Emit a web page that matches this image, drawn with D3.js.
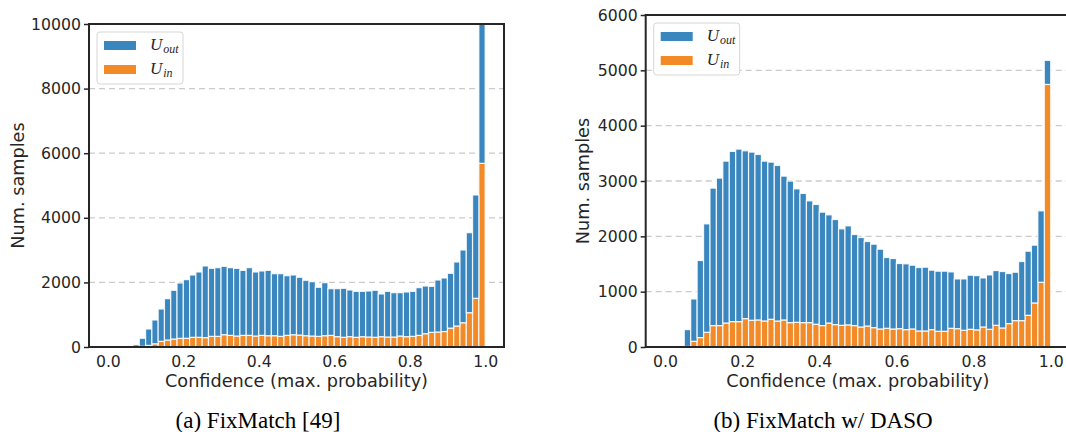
<!DOCTYPE html>
<html lang="en">
<head>
    <meta charset="UTF-8">
    <title>Confidence histograms</title>
    <script src="https://cdn.jsdelivr.net/npm/d3@7"></script>
    <style>
        body{margin:0;background:#fff;}
        svg{display:block;}
    </style>
</head>
<body>
    <svg id="chart" width="1066" height="432"></svg>
    <script>
        //60 bins between 0 and 1, lower edges
        var binEdges = d3.range(60).map(function(i){return i/60;});
        var binWidth = 1/60;

        //(a) FixMatch : samples per bin
        var fixmatchIn = [0,0,0,0,0,20,50,100,175,217,248,268,270,300,300,290,330,330,382,360,
                          340,360,360,340,360,350,350,330,360,380,370,350,340,330,350,360,320,300,320,300,
                          320,310,300,320,310,310,340,320,330,360,412,454,464,480,585,650,752,1062,1508,5687];
        var fixmatchOut = [0,0,0,0,70,250,507,736,1001,1279,1507,1713,1815,1929,2022,2218,2105,2126,2115,2096,
                           2095,2013,2096,1982,1993,2023,1920,1940,1848,1849,1788,1715,1682,1518,1641,1446,1486,1516,1445,1423,
                           1403,1424,1455,1321,1413,1372,1342,1383,1393,1477,1476,1424,1610,1656,1696,1982,2251,2477,3198,4313];

        //(b) FixMatch w/ DASO : samples per bin
        var dasoIn = [0,0,0,10,103,170,266,387,387,434,459,459,513,483,489,471,501,470,489,441,
                      447,441,441,411,387,434,405,392,400,387,362,380,350,326,338,326,332,314,326,290,
                      290,314,284,284,338,332,302,320,310,362,320,392,344,423,477,477,573,796,1170,4745];
        var dasoOut = [0,0,20,304,765,1393,1959,2484,2665,2925,3076,3117,3033,3039,2991,2888,2840,2811,2599,2557,
                       2411,2334,2200,2165,2050,1954,1899,1743,1789,1646,1617,1526,1508,1441,1279,1273,1177,1189,1152,1146,
                       1152,1074,1086,1086,1019,898,928,977,980,886,982,990,1020,905,874,1068,1158,1044,1290,435];

        var xTicks = [0,0.2,0.4,0.6,0.8,1.0];
        var yTicksA = [0,2000,4000,6000,8000,10000];
        var yTicksB = [0,1000,2000,3000,4000,5000,6000];
        var seriesNames = ["out","in"];
        var captions = ["(a) FixMatch [49]","(b) FixMatch w/ DASO"];

        var colors = {out:"#3a87c0", in:"#f28a28"};
        var ink = "#262626";

        var svg = d3.select("#chart");

        //one panel = one histogram
        function drawPanel(cfg){
            var w = cfg.right-cfg.left, h = cfg.bottom-cfg.top;
            var g = svg.append("g").attr("transform","translate("+cfg.left+","+cfg.top+")");

            var x = d3.scaleLinear().domain([-0.05,1.05]).range([0,w]);
            var y = d3.scaleLinear().domain([0,cfg.yMax]).range([h,0]);

            //dashed grid
            g.append("g").selectAll("line")
                .data(cfg.yTicks.filter(function(t){return t>0 && t<cfg.yMax;}))
                .enter().append("line")
                .attr("x1",0).attr("x2",w)
                .attr("y1",function(t){return y(t);})
                .attr("y2",function(t){return y(t);})
                .attr("stroke","#cbcbcb")
                .attr("stroke-width",1.3)
                .attr("stroke-dasharray","6,4");

            //stack: in at the bottom, out on top
            var rows = binEdges.map(function(e,i){
                return {x0:e, inV:cfg.inV[i], outV:cfg.outV[i]};
            });
            var bars = g.append("g");
            bars.selectAll("rect.in").data(rows).enter().append("rect")
                .attr("x",function(d){return x(d.x0);})
                .attr("width",x(binWidth)-x(0))
                .attr("y",function(d){return y(d.inV);})
                .attr("height",function(d){return y(0)-y(d.inV);})
                .attr("fill",colors.in)
                .attr("stroke","#fff").attr("stroke-opacity",0.85).attr("stroke-width",1.2);
            bars.selectAll("rect.out").data(rows).enter().append("rect")
                .attr("x",function(d){return x(d.x0);})
                .attr("width",x(binWidth)-x(0))
                .attr("y",function(d){return y(Math.min(cfg.yMax,d.inV+d.outV));})
                .attr("height",function(d){return y(d.inV)-y(Math.min(cfg.yMax,d.inV+d.outV));})
                .attr("fill",colors.out)
                .attr("stroke","#fff").attr("stroke-opacity",0.85).attr("stroke-width",1.2);

            //axes
            var ya = g.append("g")
                .call(d3.axisLeft(y).tickValues(cfg.yTicks).tickFormat(d3.format("d")).tickSize(5).tickPadding(3));
            var xa = g.append("g").attr("transform","translate(0,"+h+")")
                .call(d3.axisBottom(x).tickValues(xTicks).tickFormat(d3.format(".1f")).tickSize(0).tickPadding(9));
            [ya,xa].forEach(function(a){
                a.select(".domain").remove();
                a.selectAll("text").attr("font-family","DejaVu Sans").attr("font-size",15.7).attr("fill",ink);
                a.selectAll("line").attr("stroke",ink).attr("stroke-width",1.5);
            });

            //spines
            g.append("rect").attr("width",w).attr("height",h)
                .attr("fill","none").attr("stroke",ink).attr("stroke-width",2);

            //axis labels
            g.append("text")
                .attr("x",w/2).attr("y",h+39.5)
                .attr("text-anchor","middle")
                .attr("font-family","DejaVu Sans").attr("font-size",17.7).attr("fill",ink)
                .text("Confidence (max. probability)");
            g.append("text")
                .attr("transform","translate("+(cfg.yLabelX-cfg.left)+","+(h/2)+") rotate(-90)")
                .attr("text-anchor","middle")
                .attr("font-family","DejaVu Sans").attr("font-size",17.7).attr("fill",ink)
                .text("Num. samples");

            //legend
            var lg = g.append("g").attr("transform","translate(8,8)");
            lg.append("rect").attr("width",86).attr("height",52).attr("rx",3)
                .attr("fill","#fff").attr("fill-opacity",0.9)
                .attr("stroke","#d6d6d6").attr("stroke-width",1);
            seriesNames.forEach(function(s,i){
                lg.append("rect").attr("x",7).attr("y",9+i*24).attr("width",32).attr("height",9)
                    .attr("fill",colors[s]);
                var t = lg.append("text").attr("x",53).attr("y",18+i*24)
                    .attr("font-family","Liberation Serif").attr("font-style","italic").attr("fill",ink);
                t.append("tspan").attr("font-size",17).text("U");
                t.append("tspan").attr("font-size",12).attr("dy",3).attr("dx",1).text(s);
            });

            //caption
            svg.append("text")
                .attr("x",cfg.captionX).attr("y",428)
                .attr("text-anchor","middle")
                .attr("font-family","Liberation Serif").attr("font-size",23).attr("fill","#000")
                .text(cfg.caption);
        }

        drawPanel({left:89,right:504,top:24,bottom:347,yMax:10000,yTicks:yTicksA,
                   inV:fixmatchIn,outV:fixmatchOut,yLabelX:24,captionX:258,caption:captions[0]});
        drawPanel({left:645.7,right:1070,top:15,bottom:347,yMax:6000,yTicks:yTicksB,
                   inV:dasoIn,outV:dasoOut,yLabelX:589,captionX:823,caption:captions[1]});
    </script>
</body>
</html>
